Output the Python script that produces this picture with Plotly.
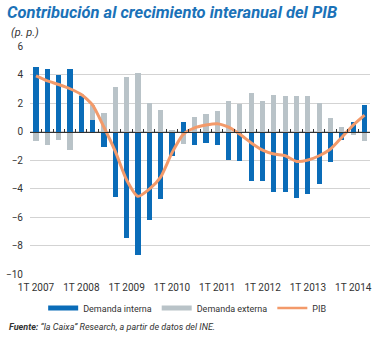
import plotly.graph_objects as go

quarters = list(range(30))
tick_pos = [0, 4, 8, 12, 16, 20, 24, 28]
tick_labels = ["1T 2007", "1T 2008", "1T 2009", "1T 2010", "1T 2011", "1T 2012", "1T 2013", "1T 2014"]

demanda_interna = [4.55, 4.42, 3.95, 4.37, 2.55, 0.83, -1.06, -4.6, -7.5, -8.7,
                   -6.2, -4.75, -1.75, 0.66, -0.94, -0.8, -0.98, -1.97, -2.04, -3.44,
                   -3.49, -4.23, -4.23, -4.67, -4.4, -3.65, -2.16, -0.63, 0.66, 1.84]
demanda_externa = [-0.7, -0.92, -0.57, -1.3, 0.1, 1.0, 1.32, 3.14, 3.85, 4.13,
                   2.0, 1.52, 0.1, -0.87, 1.05, 1.24, 1.47, 2.15, 1.94, 2.72,
                   2.15, 2.53, 2.48, 2.48, 2.48, 2.0, 0.94, 0.35, -0.23, -0.7]
pib = [3.9, 3.55, 3.3, 3.0, 2.6, 1.85, 0.3, -1.4, -3.4, -4.55,
       -4.05, -3.2, -1.5, -0.2, 0.25, 0.45, 0.55, 0.3, -0.2, -0.8,
       -1.3, -1.58, -1.7, -2.1, -2.0, -1.7, -1.23, -0.4, 0.45, 1.15]

BLUE = "#0a6cb8"
GREY = "#b9c3c8"
ORANGE = "#f39a6a"
FONT = "Roboto"

fig = go.Figure()
fig.add_trace(go.Bar(x=quarters, y=demanda_interna, marker_color=BLUE, width=0.45,
                     showlegend=False, marker_line_width=0))
fig.add_trace(go.Bar(x=quarters, y=demanda_externa, marker_color=GREY, width=0.45,
                     showlegend=False, marker_line_width=0))
fig.add_trace(go.Scatter(x=quarters, y=pib, mode="lines",
                         line=dict(color=ORANGE, width=3, shape="spline", smoothing=0.6),
                         showlegend=False))
# legend entries
fig.add_trace(go.Scatter(x=[None], y=[None], mode="lines", line=dict(color=BLUE, width=5), name="Demanda interna"))
fig.add_trace(go.Scatter(x=[None], y=[None], mode="lines", line=dict(color=GREY, width=5), name="Demanda externa"))
fig.add_trace(go.Scatter(x=[None], y=[None], mode="lines", line=dict(color=ORANGE, width=2.5), name="PIB"))
# dummy for zero-line axis
fig.add_trace(go.Scatter(x=[None], y=[None], xaxis="x2", showlegend=False))

fig.update_layout(
    width=383, height=338,
    margin=dict(l=30, r=13, t=46, b=64, autoexpand=False),
    paper_bgcolor="white", plot_bgcolor="white",
    barmode="relative", bargap=0,
    font=dict(family=FONT, size=10, color="#333333"),
    title=dict(text="<b><i>Contribución al crecimiento interanual del PIB</i></b>",
               font=dict(family=FONT, size=16.5, color="#1b72b8"),
               x=7/383, xanchor="left", xref="container",
               y=1-12/338, yanchor="middle", yref="container"),
    xaxis=dict(range=[-0.53, 29.48], tickmode="array", tickvals=tick_pos, ticktext=tick_labels,
               showgrid=False, zeroline=False, showline=False, ticks="outside", ticklen=4,
               tickcolor="rgba(0,0,0,0)",
               tickfont=dict(size=10, color="#333333")),
    xaxis2=dict(range=[-0.53, 29.48], overlaying="x", anchor="free", position=0.625,
                side="bottom", tickmode="array", tickvals=[i + 0.5 for i in range(29)],
                ticks="inside", ticklen=3, tickcolor="#333333", tickwidth=1,
                showline=True, linecolor="#333333", linewidth=1,
                showticklabels=False, showgrid=False, zeroline=False),
    yaxis=dict(range=[-10, 6], tickvals=[-10, -8, -6, -4, -2, 0, 2, 4, 6],
               showgrid=True, gridcolor="#d3d3d3", gridwidth=1, zeroline=False,
               showline=False, ticks="outside", ticklen=4, tickcolor="rgba(0,0,0,0)",
               tickfont=dict(size=10, color="#333333")),
    legend=dict(orientation="h", x=0.49, xanchor="center", xref="container",
                y=1-308/338, yanchor="middle", yref="container",
                font=dict(size=9, color="#333333"), itemwidth=30, entrywidth=0,
                bgcolor="rgba(0,0,0,0)"),
    annotations=[
        dict(text="<i>(p. p.)</i>", xref="paper", yref="paper",
             x=(9-30)/340, y=(274-32)/228, xanchor="left", yanchor="middle",
             showarrow=False, font=dict(family=FONT, size=11, color="#333333")),
        dict(text="<b><i>Fuente:</i></b><i> “la Caixa” Research, a partir de datos del INE.</i>",
             xref="paper", yref="paper", x=(7-30)/340, y=-(327-274)/228,
             xanchor="left", yanchor="middle", showarrow=False,
             font=dict(family=FONT, size=9, color="#333333")),
    ],
)

fig.write_html("out.html")
